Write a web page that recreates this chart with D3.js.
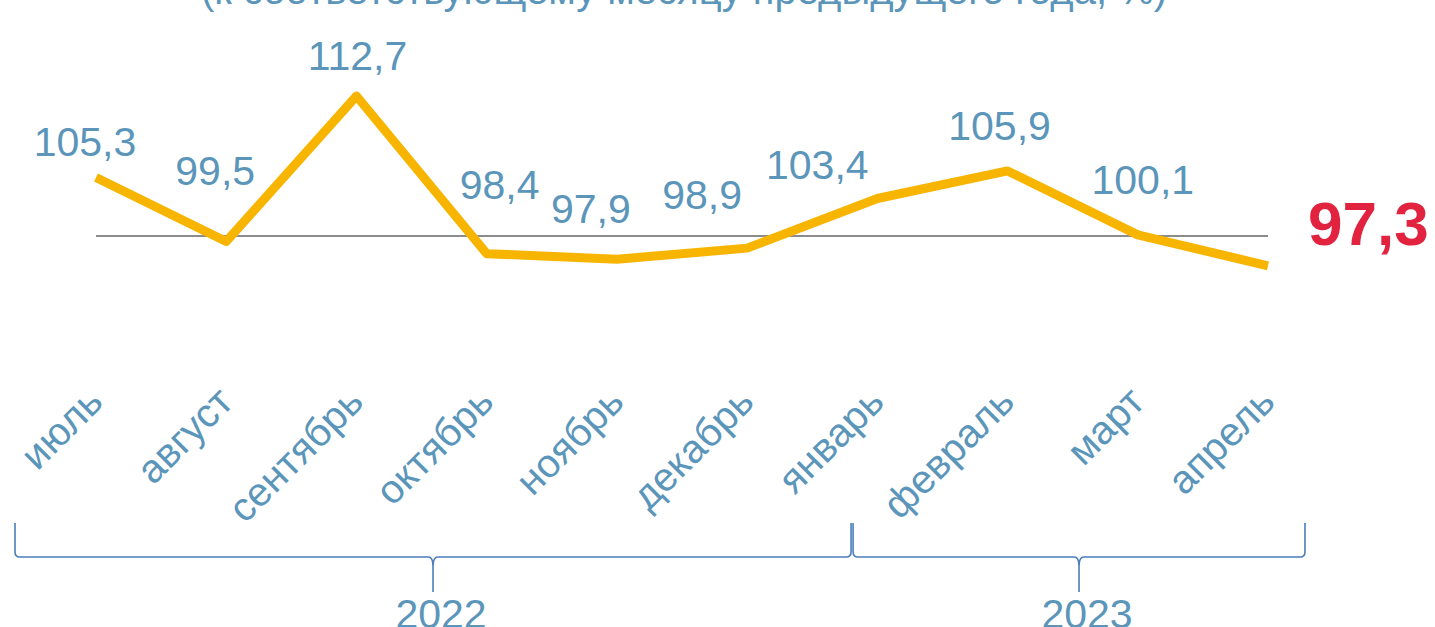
<!DOCTYPE html>
<html>
<head>
<meta charset="utf-8">
<script src="https://cdn.jsdelivr.net/npm/d3@7"></script>
<style>
  html, body { margin: 0; padding: 0; background: #fff; overflow: hidden; }
  svg { display: block; font-family: "Liberation Sans", Arial, sans-serif; }
</style>
</head>
<body>
<div id="chart"></div>
<script>
(function () {
  var months = ['июль', 'август', 'сентябрь', 'октябрь', 'ноябрь', 'декабрь', 'январь', 'февраль', 'март', 'апрель'];
  var values = [105.3, 99.5, 112.7, 98.4, 97.9, 98.9, 103.4, 105.9, 100.1, 97.3];
  var years = ['2022', '2023'];
  var yearSpans = [[0, 5], [6, 9]];
  var title = '(к соответствующему месяцу предыдущего года, %)';

  // manual nudges for the value labels, like the hand-placed ones in the original
  var labelNudge = [[-11, -22], [-11, -57], [1, -26], [13, -55], [-26, -36], [-45, -39], [-60, -20], [-8, -31], [5, -41]];

  var width = 1435;
  var height = 627;
  var blue = '#5B96BA';
  var braceColor = '#4A7EBB';

  var svg = d3.select('#chart').append('svg')
    .attr('width', width)
    .attr('height', height);

  var xScale = d3.scaleLinear().domain([0, months.length - 1]).range([96, 1268]);
  var yScale = d3.scaleLinear().domain([100, 112.7]).range([236, 96]);

  svg.append('text')
    .attr('x', 684)
    .attr('y', 4)
    .attr('text-anchor', 'middle')
    .attr('fill', blue)
    .style('font-size', '40px')
    .text(title);

  // 100% reference line
  svg.append('line')
    .attr('x1', xScale(0))
    .attr('x2', xScale(months.length - 1))
    .attr('y1', yScale(100))
    .attr('y2', yScale(100))
    .attr('stroke', '#8c8c8c')
    .attr('stroke-width', 2);

  var line = d3.line()
    .x(function (d, i) { return xScale(i); })
    .y(function (d) { return yScale(d); });

  svg.append('path')
    .attr('d', line(values))
    .attr('fill', 'none')
    .attr('stroke', '#F8B500')
    .attr('stroke-width', 9)
    .attr('stroke-linejoin', 'round');

  // value labels (all but the last one)
  svg.selectAll('.val')
    .data(values.slice(0, -1))
    .enter().append('text')
    .attr('class', 'val')
    .attr('x', function (d, i) { return xScale(i) + labelNudge[i][0]; })
    .attr('y', function (d, i) { return yScale(d) + labelNudge[i][1]; })
    .attr('text-anchor', 'middle')
    .attr('fill', blue)
    .style('font-size', '41px')
    .text(function (d) { return d.toFixed(1).replace('.', ','); });

  var last = values.length - 1;
  svg.append('text')
    .attr('x', xScale(last) + 40)
    .attr('y', yScale(values[last]) - 21)
    .attr('fill', '#E2233F')
    .style('font-size', '62px')
    .style('font-weight', 'bold')
    .text(values[last].toFixed(1).replace('.', ','));

  // rotated month labels
  svg.selectAll('.month')
    .data(months)
    .enter().append('text')
    .attr('class', 'month')
    .attr('text-anchor', 'end')
    .attr('transform', function (d, i) {
      return 'translate(' + (xScale(i) + 9) + ',' + 404 + ') rotate(-45)';
    })
    .attr('fill', blue)
    .style('font-size', '40px')
    .text(function (d) { return d; });

  // year braces
  var braceTop = 523;
  var braceLine = 557;
  var braceTip = 592;
  var r = 5;

  function bracePath(a, b) {
    var mid = (a + b) / 2;
    var p = d3.path();
    p.moveTo(a, braceTop);
    p.lineTo(a, braceLine - r);
    p.quadraticCurveTo(a, braceLine, a + r, braceLine);
    p.lineTo(mid - r, braceLine);
    p.quadraticCurveTo(mid, braceLine, mid, braceLine + r + 4);
    p.lineTo(mid, braceTip);
    p.moveTo(mid, braceLine + r + 4);
    p.quadraticCurveTo(mid, braceLine, mid + r, braceLine);
    p.lineTo(b - r, braceLine);
    p.quadraticCurveTo(b, braceLine, b, braceLine - r);
    p.lineTo(b, braceTop);
    return p.toString();
  }

  var edgeLeft = xScale(yearSpans[0][0] - 0.622);
  var edgeMid = xScale(yearSpans[0][1] + 0.806);
  var edgeRight = xScale(yearSpans[1][1] + 0.284);
  var braceEdges = [[edgeLeft, edgeMid - 1], [edgeMid + 1, edgeRight]];

  svg.selectAll('.brace')
    .data(braceEdges)
    .enter().append('path')
    .attr('class', 'brace')
    .attr('d', function (d) { return bracePath(d[0], d[1]); })
    .attr('fill', 'none')
    .attr('stroke', braceColor)
    .attr('stroke-width', 1.6);

  svg.selectAll('.year')
    .data(years)
    .enter().append('text')
    .attr('class', 'year')
    .attr('x', function (d, i) { return (braceEdges[i][0] + braceEdges[i][1]) / 2 + 8; })
    .attr('y', 628)
    .attr('text-anchor', 'middle')
    .attr('fill', blue)
    .style('font-size', '41px')
    .text(function (d) { return d; });
})();
</script>
</body>
</html>
